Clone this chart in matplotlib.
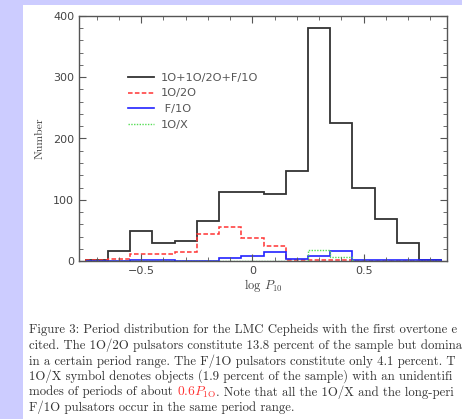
import numpy as np
import matplotlib
matplotlib.use('Agg')
import matplotlib.pyplot as plt
from matplotlib.patches import Rectangle
from matplotlib.ticker import MultipleLocator

plt.rcParams['mathtext.fontset'] = 'cm'
plt.rcParams['axes.unicode_minus'] = True

# Histogram bins in log P_1O (bin centres -0.7 ... 0.8)
bin_edges = [-0.75, -0.65, -0.55, -0.45, -0.35, -0.25, -0.15, -0.05,
             0.05, 0.15, 0.25, 0.35, 0.45, 0.55, 0.65, 0.75, 0.85]

# Counts
n_all = [2, 17, 49, 29, 33, 65, 113, 112, 109, 147, 381, 226, 119, 69, 29, 2]
n_1o2o = [2, 3, 11, 11, 15, 44, 56, 38, 24, 2, 1, 1, 0, 0, 0, 0]
n_f1o = [0, 0, 1, 1, 0, 0, 5, 8, 15, 4, 8, 17, 2, 1, 1, 1]
n_1ox = [0, 0, 0, 0, 0, 0, 0, 0, 0, 0, 18, 7, 0, 0, 0, 0]

labels = ['1O+1O/2O+F/1O', '1O/2O', ' F/1O', '1O/X']

# caption as far as it is visible in the (cropped) page
caption = [
    'Figure 3: Period distribution for the LMC Cepheids with the first overtone e',
    'cited. The 1O/2O pulsators constitute 13.8 percent of the sample but domina',
    'in a certain period range. The F/1O pulsators constitute only 4.1 percent. T',
    '1O/X symbol denotes objects (1.9 percent of the sample) with an unidentifi',
    None,
    'F/1O pulsators occur in the same period range.',
]

fig = plt.figure(figsize=(4.62, 4.19), dpi=100, facecolor='#ccccff')
# white page on the lavender background
fig.patches.append(Rectangle((23 / 462, 0), 1, 1 - 5 / 419, transform=fig.transFigure,
                             facecolor='white', edgecolor='none', zorder=-10))

ax = fig.add_axes([79 / 462, 1 - 261 / 419, 368 / 462, 245 / 419])
ax.set_facecolor('white')
ax.set_zorder(5)

ax.stairs(n_all, bin_edges, color='#333333', lw=1.3, label=labels[0])
ax.stairs(n_1o2o, bin_edges, color='#ff3333', lw=1.1, ls=(0, (3, 1.5)), label=labels[1])
ax.stairs(n_f1o, bin_edges, color='#2222ff', lw=1.2, label=labels[2])
ax.stairs(n_1ox, bin_edges, color='#55dd55', lw=1.0, ls=(0, (1, 1)), label=labels[3])

ax.set_xlim(-0.78, 0.875)
ax.set_ylim(0, 400)
ax.xaxis.set_major_locator(MultipleLocator(0.5))
ax.xaxis.set_minor_locator(MultipleLocator(0.1))
ax.yaxis.set_major_locator(MultipleLocator(100))
ax.yaxis.set_minor_locator(MultipleLocator(20))
ax.tick_params(which='both', direction='in', top=True, right=True, color='#555555',
               labelcolor='#444444', labelsize=8)
ax.tick_params(which='major', length=5)
ax.tick_params(which='minor', length=3)
ax.set_xticks([-0.5, 0, 0.5])
ax.set_xticklabels(['\u22120.5', '0', '0.5'])
for s in ax.spines.values():
    s.set_color('#555555')
    s.set_linewidth(1.0)

ax.set_xlabel(r'log $P_{\rm 10}$', family='cmr10', fontsize=9, color='#444444', labelpad=1)
ax.set_ylabel('Number', family='cmr10', fontsize=8.5, color='#444444', labelpad=6)

leg = ax.legend(loc='upper left', bbox_to_anchor=(0.105, 0.81), frameon=False,
                handlelength=2.3, handletextpad=0.6, labelspacing=0.5, fontsize=8.2)
for t in leg.get_texts():
    t.set_color('#555555')

# caption below the plot
fsz = 9.2
y0 = 1 - 330 / 419
dy = 15.5 / 419
x0 = 29 / 462
for i, line in enumerate(caption):
    if line is not None:
        fig.text(x0, y0 - i * dy, line, family='cmr10', fontsize=fsz, color='#333333',
                 va='center', ha='left')

# line with the red inline part
renderer = fig.canvas.get_renderer()
yl = y0 - 4 * dy
t1 = fig.text(x0, yl, 'modes of periods of about ', family='cmr10', fontsize=fsz,
              color='#333333', va='center', ha='left')
bb = t1.get_window_extent(renderer=renderer)
t2 = fig.text(bb.x1 / fig.bbox.width, yl, r'$0.6P_{\rm 1O}$', fontsize=fsz + 0.5,
              color='#ff3333', va='center', ha='left')
bb = t2.get_window_extent(renderer=renderer)
fig.text(bb.x1 / fig.bbox.width, yl, '. Note that all the 1O/X and the long-peri',
         family='cmr10', fontsize=fsz, color='#333333', va='center', ha='left')

fig.savefig('out.png', dpi=100, facecolor=fig.get_facecolor())
